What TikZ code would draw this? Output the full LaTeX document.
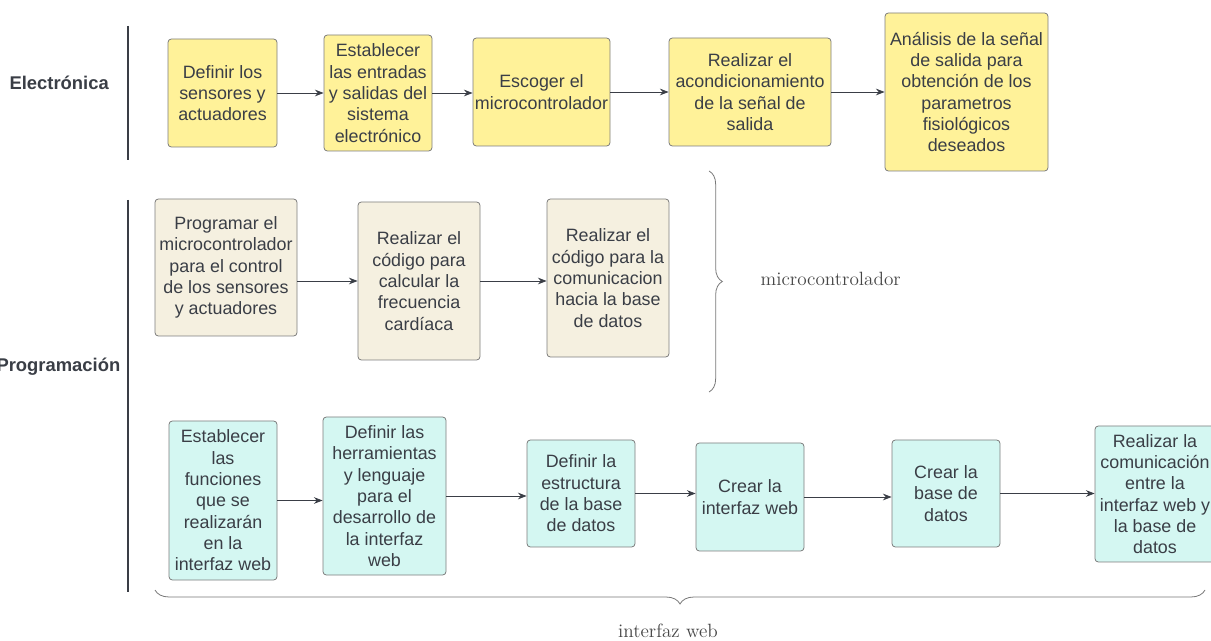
\documentclass[tikz,border=0pt]{standalone}
\usepackage{fontspec}
\newfontfamily\boxfont{Liberation Sans}
\usetikzlibrary{
  arrows.meta,
  decorations.pathreplacing
}
\definecolor{inkgray}{RGB}{58,62,70}
\definecolor{boxborder}{RGB}{125,125,125}
\definecolor{elecbg}{RGB}{255,242,153}
\definecolor{progbg}{RGB}{245,240,224}
\definecolor{webbg}{RGB}{212,247,242}
\definecolor{bracegray}{RGB}{120,120,120}
\definecolor{notegray}{RGB}{70,70,70}
\tikzset{
  stepbase/.style={
    draw=boxborder, line width=0.6pt,
    rounded corners=2.5pt, align=center, inner sep=1pt,
    text=inkgray, font=\boxfont\fontsize{13.4}{16}\selectfont
  },
  elecbox/.style={stepbase, fill=elecbg},
  progbox/.style={stepbase, fill=progbg},
  webbox/.style={stepbase, fill=webbg},
  boxsize/.style 2 args={
    minimum width=#1*0.75pt, minimum height=#2*0.75pt
  },
  flowarrow/.style={
    -{Stealth[length=6.5pt,width=5pt]},
    draw=inkgray, line width=0.6pt
  },
  arealine/.style={draw=inkgray, line width=2.2pt},
  arealabel/.style={
    text=inkgray, font=\boxfont\bfseries\fontsize{13.8}{16}\selectfont
  },
  bracemark/.style={
    draw=bracegray, line width=0.6pt, decorate
  },
  bracelabel/.style={
    text=notegray, font=\fontsize{14.4}{17}\selectfont
  },
}
\begin{document}
\begin{tikzpicture}[x=0.75pt, y=-0.75pt]

  \useasboundingbox (0,0) rectangle (1211,641);

  %% Areas
  \node[arealabel, anchor=east] (lelec) at (113.5,83) {Electrónica};
  \node[arealabel, anchor=east] (lprog) at (125,367) {Programación};
  \coordinate (electop) at (128,26);
  \coordinate (elecbot) at (128,160);
  \coordinate (progtop) at (128,200);
  \coordinate (progbot) at (128,592);
  \draw[arealine] (electop) -- (elecbot);
  \draw[arealine] (progtop) -- (progbot);

  %% Electronica
  \node[elecbox, boxsize={109}{108}] (e1) at (222.5,93)
    {Definir los\\sensores y\\actuadores};
  \node[elecbox, boxsize={108}{116}] (e2) at (378,93)
    {Establecer\\las entradas\\y salidas del\\sistema\\electrónico};
  \node[elecbox, boxsize={137}{108}] (e3) at (541.5,92)
    {Escoger el\\microcontrolador};
  \node[elecbox, boxsize={162}{108}] (e4) at (750,92)
    {Realizar el\\acondicionamiento\\de la señal de\\salida};
  \node[elecbox, boxsize={163}{158}] (e5) at (966.5,92)
    {Análisis de la señal\\de salida para\\obtención de los\\parametros\\fisiológicos\\deseados};

  \draw[flowarrow] (e1.east) -- (e1.east -| e2.west);
  \draw[flowarrow] (e2.east) -- (e2.east -| e3.west);
  \draw[flowarrow] (e3.east) -- (e3.east -| e4.west);
  \draw[flowarrow] (e4.east) -- (e4.east -| e5.west);

  %% Programacion: microcontrolador
  \node[progbox, boxsize={142}{137}] (m1) at (226,267.5)
    {Programar el\\microcontrolador\\para el control\\de los sensores\\y actuadores};
  \node[progbox, boxsize={122}{158}] (m2) at (419,281)
    {Realizar el\\código para\\calcular la\\frecuencia\\cardíaca};
  \node[progbox, boxsize={122}{158}] (m3) at (608,278)
    {Realizar el\\código para la\\comunicacion\\hacia la base\\de datos};

  \draw[flowarrow] (m2.west -| m1.east) -- (m2.west);
  \draw[flowarrow] (m2.east) -- (m2.east -| m3.west);

  \coordinate (mctop) at (709,171);
  \coordinate (mcbot) at (709,392);
  \draw[bracemark, decoration={brace, amplitude=10pt}] (mctop) -- (mcbot);
  \node[bracelabel, anchor=west] (mclabel) at (756,279) {microcontrolador};

  %% Programacion: interfaz web
  \node[webbox, boxsize={108}{159}] (w1) at (223,500.5)
    {Establecer\\las\\funciones\\que se\\realizarán\\en la\\interfaz web};
  \node[webbox, boxsize={123}{158}] (w2) at (384.5,496)
    {Definir las\\herramientas\\y lenguaje\\para el\\desarrollo de\\la interfaz\\web};
  \node[webbox, boxsize={108}{107}] (w3) at (581,493.5)
    {Definir la\\estructura\\de la base\\de datos};
  \node[webbox, boxsize={108}{108}] (w4) at (750,497)
    {Crear la\\interfaz web};
  \node[webbox, boxsize={108}{107}] (w5) at (946,493.5)
    {Crear la\\base de\\datos};
  \node[webbox, boxsize={120}{136}] (w6) at (1155,494)
    {Realizar la\\comunicación\\entre la\\interfaz web y\\la base de\\datos};

  \draw[flowarrow] (w1.east) -- (w1.east -| w2.west);
  \draw[flowarrow] (w2.east) -- (w2.east -| w3.west);
  \draw[flowarrow] (w3.east) -- (w3.east -| w4.west);
  \draw[flowarrow] (w4.east) -- (w4.east -| w5.west);
  \draw[flowarrow] (w5.east) -- (w5.east -| w6.west);

  \coordinate (webright) at (1205,590);
  \coordinate (webleft) at (155,590);
  \draw[bracemark, decoration={brace, amplitude=10.5pt}] (webright) -- (webleft);
  \node[bracelabel] (weblabel) at (668,631) {interfaz web};

\end{tikzpicture}
\end{document}
